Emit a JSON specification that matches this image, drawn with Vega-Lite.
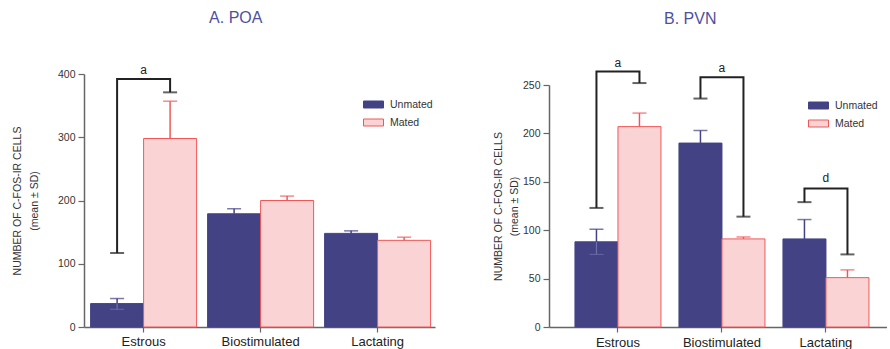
{
  "$schema": "https://vega.github.io/schema/vega-lite/v6.json",
  "background": "white",
  "padding": {"left": 12, "top": 10, "right": 0, "bottom": 0},
  "spacing": 58,
  "resolve": {
    "scale": {"x": "independent", "xOffset": "independent", "y": "independent", "fill": "independent", "stroke": "independent", "color": "independent"},
    "legend": {"fill": "independent", "stroke": "independent", "color": "independent"}
  },
  "config": {
    "font": "Liberation Sans",
    "view": {"stroke": null},
    "axis": {"grid": false, "domainColor": "#666666", "domainWidth": 1.5, "tickColor": "#666666", "tickWidth": 1.2, "labelColor": "#333333", "titleColor": "#333333", "labelFont": "Liberation Sans", "titleFont": "Liberation Sans"},
    "title": {"font": "Liberation Sans", "fontSize": 16, "fontWeight": "normal", "color": "#4f4f9f", "anchor": "middle", "frame": "bounds"}
  },
  "datasets": {
    "poa": [
      {"cond": "Estrous", "group": "Unmated", "value": 37, "lo": 28, "hi": 45},
      {"cond": "Estrous", "group": "Mated", "value": 298, "lo": 298, "hi": 357},
      {"cond": "Biostimulated", "group": "Unmated", "value": 179, "lo": 179, "hi": 187},
      {"cond": "Biostimulated", "group": "Mated", "value": 200, "lo": 200, "hi": 207},
      {"cond": "Lactating", "group": "Unmated", "value": 148, "lo": 148, "hi": 152},
      {"cond": "Lactating", "group": "Mated", "value": 137, "lo": 137, "hi": 142}
    ],
    "pvn": [
      {"cond": "Estrous", "group": "Unmated", "value": 88, "lo": 75, "hi": 101},
      {"cond": "Estrous", "group": "Mated", "value": 207, "lo": 207, "hi": 221},
      {"cond": "Biostimulated", "group": "Unmated", "value": 190, "lo": 190, "hi": 203},
      {"cond": "Biostimulated", "group": "Mated", "value": 91, "lo": 91, "hi": 93},
      {"cond": "Lactating", "group": "Unmated", "value": 91, "lo": 91, "hi": 111},
      {"cond": "Lactating", "group": "Mated", "value": 51, "lo": 51, "hi": 59}
    ],
    "poaBr": [
      {"id": "e", "ord": 1, "cond": "Estrous", "group": "Unmated", "y": 117, "cap": true},
      {"id": "e", "ord": 2, "cond": "Estrous", "group": "Unmated", "y": 392, "cap": false},
      {"id": "e", "ord": 3, "cond": "Estrous", "group": "Mated", "y": 392, "cap": false},
      {"id": "e", "ord": 4, "cond": "Estrous", "group": "Mated", "y": 371, "cap": true}
    ],
    "poaLab": [
      {"cond": "Estrous", "label": "a", "y": 407}
    ],
    "pvnBr": [
      {"id": "e", "ord": 1, "cond": "Estrous", "group": "Unmated", "y": 123, "cap": true},
      {"id": "e", "ord": 2, "cond": "Estrous", "group": "Unmated", "y": 264, "cap": false},
      {"id": "e", "ord": 3, "cond": "Estrous", "group": "Mated", "y": 264, "cap": false},
      {"id": "e", "ord": 4, "cond": "Estrous", "group": "Mated", "y": 252, "cap": true},
      {"id": "b", "ord": 1, "cond": "Biostimulated", "group": "Unmated", "y": 236, "cap": true},
      {"id": "b", "ord": 2, "cond": "Biostimulated", "group": "Unmated", "y": 258, "cap": false},
      {"id": "b", "ord": 3, "cond": "Biostimulated", "group": "Mated", "y": 258, "cap": false},
      {"id": "b", "ord": 4, "cond": "Biostimulated", "group": "Mated", "y": 114, "cap": true},
      {"id": "l", "ord": 1, "cond": "Lactating", "group": "Unmated", "y": 129, "cap": true},
      {"id": "l", "ord": 2, "cond": "Lactating", "group": "Unmated", "y": 143, "cap": false},
      {"id": "l", "ord": 3, "cond": "Lactating", "group": "Mated", "y": 143, "cap": false},
      {"id": "l", "ord": 4, "cond": "Lactating", "group": "Mated", "y": 75, "cap": true}
    ],
    "pvnLab": [
      {"cond": "Estrous", "label": "a", "y": 273},
      {"cond": "Biostimulated", "label": "a", "y": 268},
      {"cond": "Lactating", "label": "d", "y": 154}
    ]
  },
  "hconcat": [
    {
      "width": 351,
      "height": 253,
      "title": {"text": "A. POA", "offset": 37.5, "dx": 12},
      "encoding": {
        "x": {"field": "cond", "type": "nominal", "sort": ["Estrous", "Biostimulated", "Lactating"],
              "scale": {"paddingInner": 0.094, "paddingOuter": 0.047, "align": 0.6},
              "axis": {"title": null, "labelAngle": 0, "labelFontSize": 13, "tickSize": 5, "labelPadding": 3, "labelColor": "#222222"}},
        "xOffset": {"field": "group", "type": "nominal", "sort": ["Unmated", "Mated"], "scale": {"paddingInner": 0, "paddingOuter": 0}}
      },
      "layer": [
        {
          "data": {"name": "poa"},
          "mark": {"type": "bar", "strokeWidth": 1},
          "encoding": {
            "y": {"field": "value", "type": "quantitative", "scale": {"domain": [0, 400], "nice": false},
                  "axis": {"values": [0, 100, 200, 300, 400], "title": ["NUMBER OF C-FOS-IR CELLS", "(mean ± SD)"], "titleFontSize": 10.5, "titleFontWeight": "normal", "titleLineHeight": 17, "titlePadding": 18, "labelFontSize": 10.5, "tickSize": 6, "labelPadding": 3}},
            "fill": {"field": "group", "type": "nominal", "scale": {"domain": ["Unmated", "Mated"], "range": ["#424284", "#fad4d4"]},
                     "legend": {"title": null, "orient": "none", "legendX": 279, "legendY": 20, "symbolType": "M-1,-0.35L1,-0.35L1,0.35L-1,0.35Z", "symbolSize": 400, "symbolStrokeWidth": 1, "labelFontSize": 10.5, "labelColor": "#333333", "labelOffset": 6, "rowPadding": 2}},
            "stroke": {"field": "group", "type": "nominal", "scale": {"domain": ["Unmated", "Mated"], "range": ["#424284", "#f05858"]}}
          }
        },
        {
          "data": {"name": "poa"},
          "mark": {"type": "rule", "strokeWidth": 1.5},
          "encoding": {
            "y": {"field": "lo", "type": "quantitative"},
            "y2": {"field": "hi"},
            "stroke": {"field": "group", "type": "nominal", "legend": null}
          }
        },
        {
          "data": {"name": "poa"},
          "mark": {"type": "tick", "size": 14, "thickness": 1.5},
          "encoding": {
            "y": {"field": "hi", "type": "quantitative"},
            "color": {"field": "group", "type": "nominal", "scale": {"domain": ["Unmated", "Mated"], "range": ["#424284", "#f05858"]}, "legend": null}
          }
        },
        {
          "data": {"name": "poa"},
          "transform": [{"filter": "datum.lo < datum.value"}],
          "mark": {"type": "rule", "strokeWidth": 1.2, "color": "#7070aa"},
          "encoding": {
            "y": {"field": "lo", "type": "quantitative"},
            "y2": {"field": "value"}
          }
        },
        {
          "data": {"name": "poa"},
          "transform": [{"filter": "datum.lo < datum.value"}],
          "mark": {"type": "tick", "size": 14, "thickness": 1.2, "color": "#7070aa"},
          "encoding": {
            "y": {"field": "lo", "type": "quantitative"}
          }
        },
        {
          "data": {"name": "poaBr"},
          "mark": {"type": "line", "color": "#222222", "strokeWidth": 2, "strokeJoin": "miter"},
          "encoding": {
            "y": {"field": "y", "type": "quantitative"},
            "detail": {"field": "id"},
            "order": {"field": "ord", "type": "quantitative"}
          }
        },
        {
          "data": {"name": "poaBr"},
          "transform": [{"filter": "datum.cap"}],
          "mark": {"type": "tick", "size": 14, "thickness": 2, "color": "#222222"},
          "encoding": {
            "y": {"field": "y", "type": "quantitative"}
          }
        },
        {
          "data": {"name": "poaLab"},
          "mark": {"type": "text", "fontSize": 12, "color": "#222222", "baseline": "middle"},
          "encoding": {
            "x": {"field": "cond", "type": "nominal", "sort": ["Estrous", "Biostimulated", "Lactating"]},
            "xOffset": null,
            "y": {"field": "y", "type": "quantitative"},
            "text": {"field": "label"}
          }
        }
      ]
    },
    {
      "width": 338,
      "height": 253,
      "title": {"text": "B. PVN", "offset": 30},
      "encoding": {
        "x": {"field": "cond", "type": "nominal", "sort": ["Estrous", "Biostimulated", "Lactating"],
              "scale": {"paddingInner": 0.173, "paddingOuter": 0.2115, "align": 0.59},
              "axis": {"title": null, "labelAngle": 0, "labelFontSize": 13, "tickSize": 5, "labelPadding": 4, "labelColor": "#222222"}},
        "xOffset": {"field": "group", "type": "nominal", "sort": ["Unmated", "Mated"], "scale": {"paddingInner": 0, "paddingOuter": 0}}
      },
      "layer": [
        {
          "data": {"name": "pvn"},
          "mark": {"type": "bar", "strokeWidth": 1},
          "encoding": {
            "y": {"field": "value", "type": "quantitative", "scale": {"domain": [0, 250], "nice": false, "range": [253, 11]},
                  "axis": {"values": [0, 50, 100, 150, 200, 250], "title": ["NUMBER OF C-FOS-IR CELLS", "(mean  ± SD)"], "titleFontSize": 10.5, "titleFontWeight": "normal", "titleLineHeight": 16, "titlePadding": 3, "labelFontSize": 10.5, "tickSize": 6, "labelPadding": 3}},
            "fill": {"field": "group", "type": "nominal", "scale": {"domain": ["Unmated", "Mated"], "range": ["#424284", "#fad4d4"]},
                     "legend": {"title": null, "orient": "none", "legendX": 259, "legendY": 21, "symbolType": "M-1,-0.35L1,-0.35L1,0.35L-1,0.35Z", "symbolSize": 400, "symbolStrokeWidth": 1, "labelFontSize": 10.5, "labelColor": "#333333", "labelOffset": 6, "rowPadding": 2}},
            "stroke": {"field": "group", "type": "nominal", "scale": {"domain": ["Unmated", "Mated"], "range": ["#424284", "#f05858"]}}
          }
        },
        {
          "data": {"name": "pvn"},
          "mark": {"type": "rule", "strokeWidth": 1.5},
          "encoding": {
            "y": {"field": "lo", "type": "quantitative"},
            "y2": {"field": "hi"},
            "stroke": {"field": "group", "type": "nominal", "legend": null}
          }
        },
        {
          "data": {"name": "pvn"},
          "mark": {"type": "tick", "size": 14, "thickness": 1.5},
          "encoding": {
            "y": {"field": "hi", "type": "quantitative"},
            "color": {"field": "group", "type": "nominal", "scale": {"domain": ["Unmated", "Mated"], "range": ["#424284", "#f05858"]}, "legend": null}
          }
        },
        {
          "data": {"name": "pvn"},
          "transform": [{"filter": "datum.lo < datum.value"}],
          "mark": {"type": "rule", "strokeWidth": 1.2, "color": "#7070aa"},
          "encoding": {
            "y": {"field": "lo", "type": "quantitative"},
            "y2": {"field": "value"}
          }
        },
        {
          "data": {"name": "pvn"},
          "transform": [{"filter": "datum.lo < datum.value"}],
          "mark": {"type": "tick", "size": 14, "thickness": 1.2, "color": "#7070aa"},
          "encoding": {
            "y": {"field": "lo", "type": "quantitative"}
          }
        },
        {
          "data": {"name": "pvnBr"},
          "mark": {"type": "line", "color": "#222222", "strokeWidth": 2, "strokeJoin": "miter"},
          "encoding": {
            "y": {"field": "y", "type": "quantitative"},
            "detail": {"field": "id"},
            "order": {"field": "ord", "type": "quantitative"}
          }
        },
        {
          "data": {"name": "pvnBr"},
          "transform": [{"filter": "datum.cap"}],
          "mark": {"type": "tick", "size": 14, "thickness": 2, "color": "#222222"},
          "encoding": {
            "y": {"field": "y", "type": "quantitative"}
          }
        },
        {
          "data": {"name": "pvnLab"},
          "mark": {"type": "text", "fontSize": 12, "color": "#222222", "baseline": "middle"},
          "encoding": {
            "x": {"field": "cond", "type": "nominal", "sort": ["Estrous", "Biostimulated", "Lactating"]},
            "xOffset": null,
            "y": {"field": "y", "type": "quantitative"},
            "text": {"field": "label"}
          }
        }
      ]
    }
  ]
}
